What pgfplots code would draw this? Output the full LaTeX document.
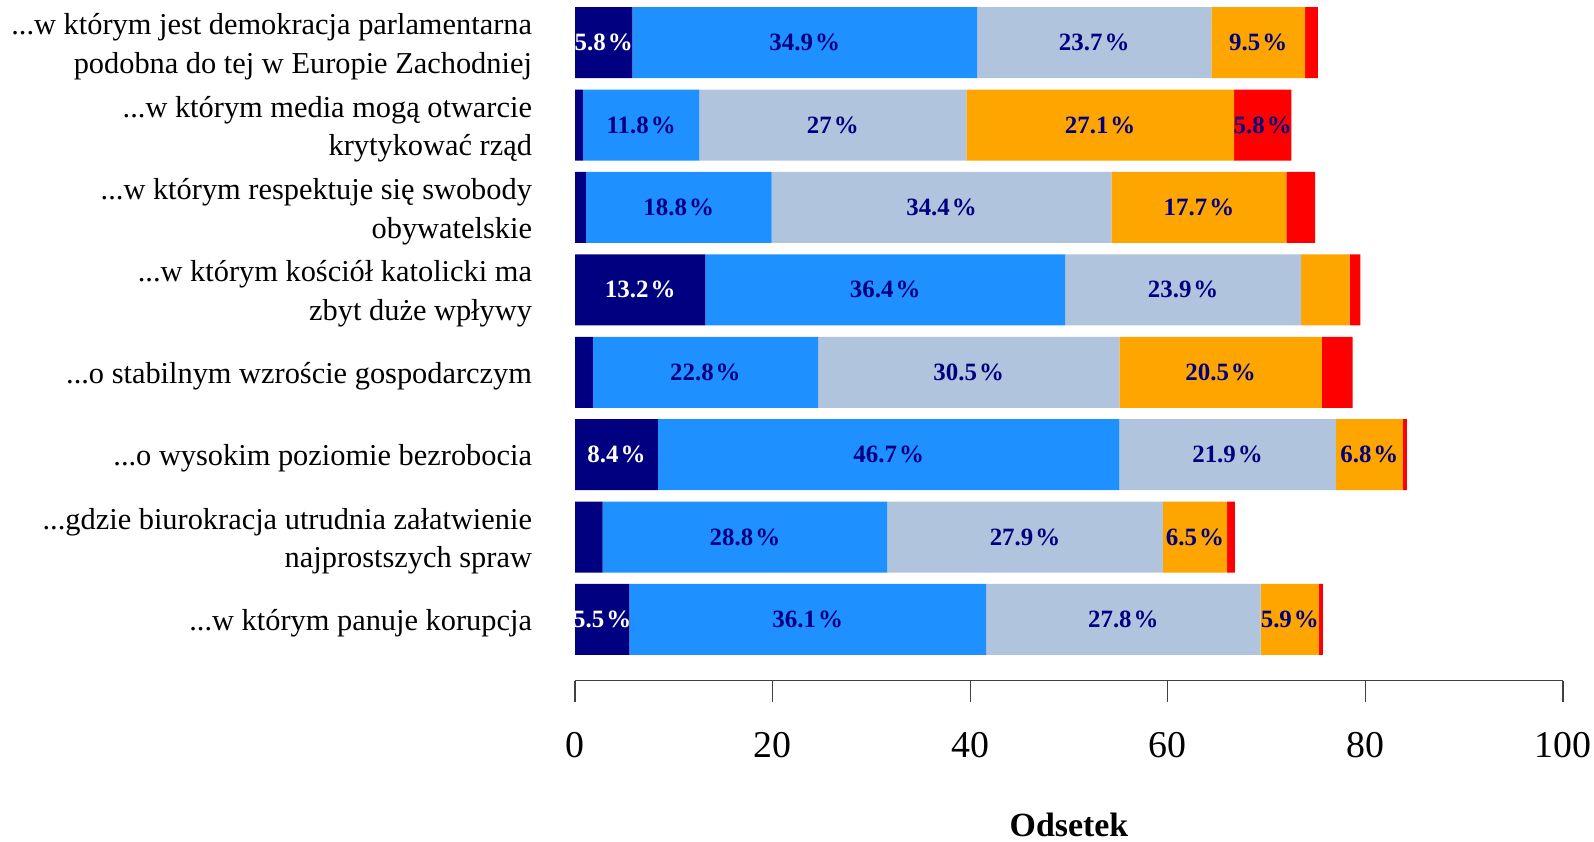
\documentclass[border=0pt]{standalone}
\usepackage{pgfplots}
\pgfplotsset{compat=1.18}
\usepackage{pgfplotstable}
\usepackage{fontspec}
\setmainfont{Liberation Serif}

\definecolor{rnavy}{HTML}{000080}
\definecolor{rblue}{HTML}{1E90FF}
\definecolor{rgrey}{HTML}{B0C4DE}
\definecolor{rorange}{HTML}{FFA500}
\definecolor{rred}{HTML}{FF0000}

\newcommand{\kr}{...}% leading dots, kept out of the tick list parser

% rows bottom (0) to top (7)
\pgfplotstableread{
idx navy blue grey orange red
0   5.5  36.1 27.8 5.9  0.4
1   2.8  28.8 27.9 6.5  0.8
2   8.4  46.7 21.9 6.8  0.4
3   1.8  22.8 30.5 20.5 3.1
4   13.2 36.4 23.9 4.9  1.1
5   1.1  18.8 34.4 17.7 2.9
6   0.8  11.8 27   27.1 5.8
7   5.8  34.9 23.7 9.5  1.3
}\odsetki

\begin{document}
\begin{tikzpicture}
\useasboundingbox (0,0) rectangle (1594bp,842bp);
\begin{axis}[
  at={(575bp,161.3bp)}, anchor=south west,
  scale only axis, width=988bp, height=679.2bp,
  xbar stacked, bar width=71bp,
  xmin=0, xmax=100, ymin=-0.743, ymax=7.5,
  axis x line*=bottom, axis y line*=left,
  y axis line style={draw=none},
  ytick style={draw=none},
  x axis line style={black!75, line width=1.2bp},
  xtick style={black!75, line width=1.2bp},
  xtick={0,20,40,60,80,100},
  tick align=outside, major tick length=21bp,
  /pgf/number format/assume math mode=true,
  xticklabel style={font=\fontsize{38}{44}\selectfont, anchor=north, yshift=-27bp},
  ytick={0,1,2,3,4,5,6,7},
  yticklabels={
    {\kr w którym panuje korupcja},
    {\kr gdzie biurokracja utrudnia załatwienie\\najprostszych spraw},
    {\kr o wysokim poziomie bezrobocia},
    {\kr o stabilnym wzroście gospodarczym},
    {\kr w którym kościół katolicki ma\\zbyt duże wpływy},
    {\kr w którym respektuje się swobody\\obywatelskie},
    {\kr w którym media mogą otwarcie\\krytykować rząd},
    {\kr w którym jest demokracja parlamentarna\\podobna do tej w Europie Zachodniej}},
  yticklabel style={font=\fontsize{30.5}{38.6}\selectfont, align=right, xshift=-18.5bp, yshift=-4bp},
  xlabel={\bfseries Odsetek},
  xlabel style={font=\fontsize{34}{40}\selectfont, at={(axis description cs:0.5,0)}, anchor=center, yshift=-144bp},
  point meta=explicit symbolic,
  % values under 5 are left unlabelled, as in the original
  nodes near coords={\ifdim\pgfplotspointmeta pt<5pt\relax\else\pgfplotspointmeta\kern2bp\%\fi},
  every node near coord/.append style={font=\fontsize{25}{28}\selectfont\bfseries, text=rnavy, anchor=center},
]
\addplot[fill=rnavy, draw=none, every node near coord/.append style={text=white}]
  table[x=navy, y=idx, meta=navy] {\odsetki};
\addplot[fill=rblue, draw=none] table[x=blue, y=idx, meta=blue] {\odsetki};
\addplot[fill=rgrey, draw=none] table[x=grey, y=idx, meta=grey] {\odsetki};
\addplot[fill=rorange, draw=none] table[x=orange, y=idx, meta=orange] {\odsetki};
\addplot[fill=rred, draw=none] table[x=red, y=idx, meta=red] {\odsetki};
\end{axis}
\end{tikzpicture}
\end{document}
